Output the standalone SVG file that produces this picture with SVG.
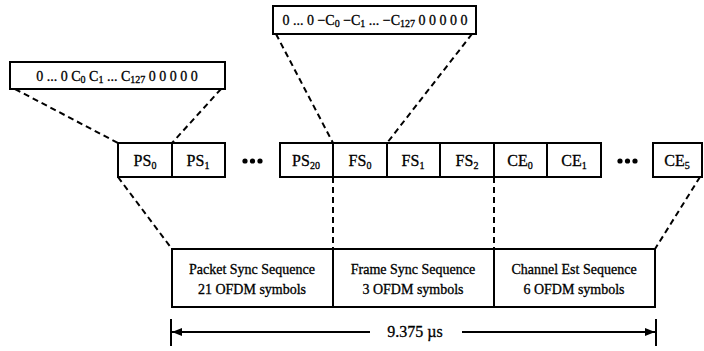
<svg xmlns="http://www.w3.org/2000/svg" width="704" height="351" viewBox="0 0 704 351">
<defs>
<style>
.box{fill:#fff;stroke:#000;stroke-width:2}
.dash{fill:none;stroke:#000;stroke-width:2;stroke-dasharray:6 4}
.ln{fill:none;stroke:#000;stroke-width:2}
.lbl{font-family:"Liberation Serif","Times New Roman",serif;font-size:16px;text-anchor:middle;fill:#000;stroke:#000;stroke-width:0.3}
.seq{font-family:"Liberation Serif","Times New Roman",serif;font-size:14px;text-anchor:middle;fill:#000;stroke:#000;stroke-width:0.3}
.sub{font-size:10px}
</style>
<marker id="ah" viewBox="0 0 10 8" refX="10" refY="4" markerWidth="10" markerHeight="8" markerUnits="userSpaceOnUse" orient="auto">
<path d="M0,0 L10,4 L0,8 Z" fill="#000"/>
</marker>
</defs>
<rect width="704" height="351" fill="#fff"/>
<g id="connectors">
<line class="dash" x1="15" y1="89" x2="118" y2="143"/>
<line class="dash" x1="221" y1="89" x2="172" y2="143"/>
<line class="dash" x1="276" y1="34" x2="333" y2="143"/>
<line class="dash" x1="472" y1="34" x2="387" y2="143"/>
<line class="dash" x1="118" y1="177" x2="172" y2="249"/>
<line class="dash" x1="333" y1="177" x2="333" y2="249"/>
<line class="dash" x1="494" y1="177" x2="494" y2="249"/>
<line class="dash" x1="700" y1="177" x2="655" y2="249"/>
</g>
<g id="ps-expand">
<rect class="box" x="10" y="62" width="215" height="27"/>
<text class="seq" x="117" y="81">0 ... 0 C<tspan class="sub" dy="2">0</tspan><tspan dy="-2"> C</tspan><tspan class="sub" dy="2">1</tspan><tspan dy="-2"> ... C</tspan><tspan class="sub" dy="2">127</tspan><tspan dy="-2"> 0 0 0 0 0</tspan></text>
</g>
<g id="fs-expand">
<rect class="box" x="273" y="6" width="203" height="28"/>
<text class="seq" x="375" y="25">0 ... 0 −C<tspan class="sub" dy="2">0</tspan><tspan dy="-2"> −C</tspan><tspan class="sub" dy="2">1</tspan><tspan dy="-2"> ... −C</tspan><tspan class="sub" dy="2">127</tspan><tspan dy="-2"> 0 0 0 0 0</tspan></text>
</g>
<g id="ps0"><rect class="box" x="118" y="143" width="54" height="34"/><text class="lbl" x="145" y="166">PS<tspan class="sub" dy="3">0</tspan></text></g>
<g id="ps1"><rect class="box" x="172" y="143" width="53" height="34"/><text class="lbl" x="198" y="166">PS<tspan class="sub" dy="3">1</tspan></text></g>
<g id="dots1"><circle cx="245" cy="161" r="2.6"/><circle cx="252.5" cy="161" r="2.6"/><circle cx="260" cy="161" r="2.6"/></g>
<g id="ps20"><rect class="box" x="280" y="143" width="53" height="34"/><text class="lbl" x="306" y="166">PS<tspan class="sub" dy="3">20</tspan></text></g>
<g id="fs0"><rect class="box" x="333" y="143" width="54" height="34"/><text class="lbl" x="360" y="166">FS<tspan class="sub" dy="3">0</tspan></text></g>
<g id="fs1"><rect class="box" x="387" y="143" width="53" height="34"/><text class="lbl" x="413" y="166">FS<tspan class="sub" dy="3">1</tspan></text></g>
<g id="fs2"><rect class="box" x="440" y="143" width="54" height="34"/><text class="lbl" x="467" y="166">FS<tspan class="sub" dy="3">2</tspan></text></g>
<g id="ce0"><rect class="box" x="494" y="143" width="53" height="34"/><text class="lbl" x="520" y="166">CE<tspan class="sub" dy="3">0</tspan></text></g>
<g id="ce1"><rect class="box" x="547" y="143" width="54" height="34"/><text class="lbl" x="574" y="166">CE<tspan class="sub" dy="3">1</tspan></text></g>
<g id="dots2"><circle cx="620" cy="161" r="2.6"/><circle cx="627.5" cy="161" r="2.6"/><circle cx="635" cy="161" r="2.6"/></g>
<g id="ce5"><rect class="box" x="653" y="143" width="49" height="34"/><text class="lbl" x="677" y="166">CE<tspan class="sub" dy="3">5</tspan></text></g>
<g id="packet-sync"><rect class="box" x="172" y="249" width="161" height="58"/><text class="seq" x="252" y="274">Packet Sync Sequence</text><text class="seq" x="252" y="294">21 OFDM symbols</text></g>
<g id="frame-sync"><rect class="box" x="333" y="249" width="161" height="58"/><text class="seq" x="413" y="274">Frame Sync Sequence</text><text class="seq" x="413" y="294">3 OFDM symbols</text></g>
<g id="channel-est"><rect class="box" x="494" y="249" width="161" height="58"/><text class="seq" x="574" y="274">Channel Est Sequence</text><text class="seq" x="574" y="294">6 OFDM symbols</text></g>
<g id="duration">
<line class="ln" x1="171" y1="319" x2="171" y2="346"/>
<line class="ln" x1="656" y1="319" x2="656" y2="346"/>
<line class="ln" x1="370" y1="332" x2="172" y2="332" marker-end="url(#ah)"/>
<line class="ln" x1="462" y1="332" x2="655" y2="332" marker-end="url(#ah)"/>
<text class="lbl" x="415" y="337" style="font-size:16px">9.375 µs</text>
</g>
</svg>
